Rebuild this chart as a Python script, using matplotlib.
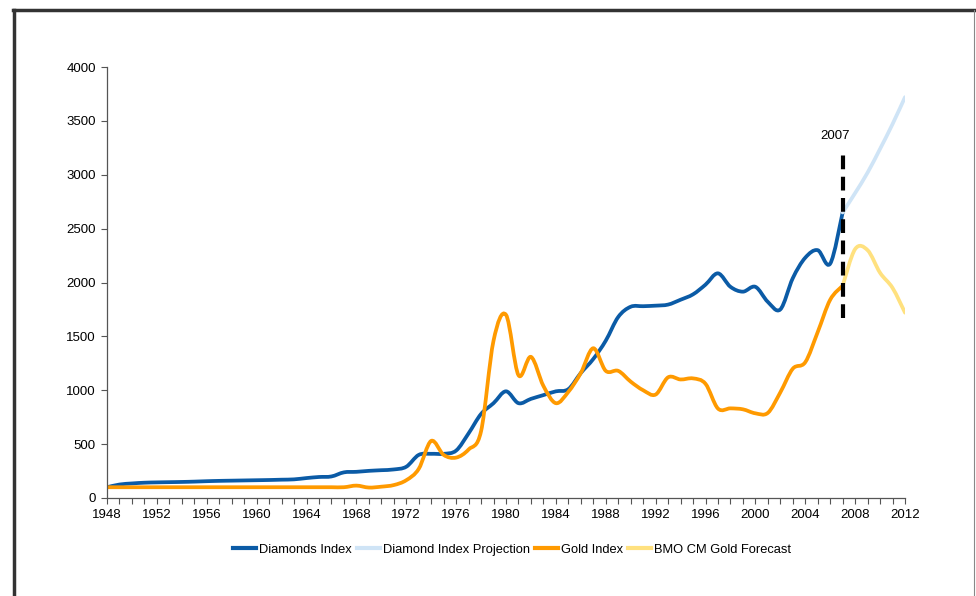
import matplotlib
matplotlib.use("Agg")
import matplotlib.pyplot as plt
from matplotlib.path import Path
from matplotlib.patches import PathPatch
from matplotlib.lines import Line2D
import numpy as np

plt.rcParams['font.family'] = ['Liberation Sans', 'DejaVu Sans']

years = list(range(1948, 2008))
diamonds = [100, 125, 135, 142, 145, 147, 149, 152, 156, 159, 161, 163, 165, 167, 170, 173,
            185, 195, 200, 238, 243, 252, 258, 265, 290, 400, 410, 410, 440, 600,
            780, 880, 990, 880, 920, 955, 990, 1010, 1160, 1290, 1460, 1680, 1775, 1780,
            1785, 1795, 1840, 1890, 1980, 2085, 1960, 1915, 1960, 1820, 1750, 2040,
            2230, 2300, 2175, 2650]
gold = [100, 100, 100, 100, 100, 100, 100, 100, 100, 100, 100, 100, 100, 100, 100, 100,
        100, 100, 100, 100, 115, 97, 105, 120, 165, 270, 530, 400, 375, 450,
        620, 1460, 1700, 1140, 1310, 1040, 880, 985, 1160, 1390, 1180, 1180, 1080, 1000,
        960, 1120, 1100, 1110, 1060, 830, 832, 823, 786, 790, 980, 1200,
        1260, 1540, 1840, 1970]
proj_years = [2007, 2008, 2009, 2010, 2011, 2012]
diamond_proj = [2650, 2830, 3020, 3240, 3470, 3720]
gold_forecast = [1970, 2310, 2300, 2090, 1950, 1720]

xtick_years = list(range(1948, 2013, 4))
yticks = [0, 500, 1000, 1500, 2000, 2500, 3000, 3500, 4000]
marker_year = 2007
marker_label = "2007"
marker_range = (1670, 3190)

series_names = ["Diamonds Index", "Diamond Index Projection", "Gold Index", "BMO CM Gold Forecast"]
colors = ["#0b5ba6", "#cfe4f6", "#ff9a00", "#ffe17f"]


def smooth_path(xs, ys):
    xs = np.asarray(xs, float)
    ys = np.asarray(ys, float)
    n = len(xs)
    verts = [(xs[0], ys[0])]
    codes = [Path.MOVETO]
    for i in range(n - 1):
        p0 = (xs[i - 1], ys[i - 1]) if i > 0 else (xs[i], ys[i])
        p1 = (xs[i], ys[i])
        p2 = (xs[i + 1], ys[i + 1])
        p3 = (xs[i + 2], ys[i + 2]) if i + 2 < n else p2
        c1 = (p1[0] + (p2[0] - p0[0]) / 6.0, p1[1] + (p2[1] - p0[1]) / 6.0)
        c2 = (p2[0] - (p3[0] - p1[0]) / 6.0, p2[1] - (p3[1] - p1[1]) / 6.0)
        verts += [c1, c2, p2]
        codes += [Path.CURVE4] * 3
    return Path(verts, codes)


fig = plt.figure(figsize=(9.76, 5.96), dpi=100)
fig.patch.set_facecolor("white")
ax = fig.add_axes([107 / 976, 1 - 498 / 596, (905 - 107) / 976, (498 - 67) / 596])

lw = 2.7
for xs, ys, c in [(years, diamonds, colors[0]), (proj_years, diamond_proj, colors[1]),
                  (years, gold, colors[2]), (proj_years, gold_forecast, colors[3])]:
    ax.add_patch(PathPatch(smooth_path(xs, ys), facecolor="none", edgecolor=c, lw=lw,
                           capstyle="round", joinstyle="round"))

ax.plot([marker_year, marker_year], marker_range, color="black", lw=3,
        dashes=(3.3, 1.8), zorder=5)
ax.text(marker_year - 0.6, 3300, marker_label, ha="center", va="bottom", fontsize=9.5)

ax.set_xlim(1948, 2012)
ax.set_ylim(0, 4000)
ax.set_xticks(xtick_years)
ax.set_xticklabels([str(y) for y in xtick_years], fontsize=9.5)
ax.set_xticks(list(range(1948, 2013)), minor=True)
ax.set_yticks(yticks)
ax.set_yticklabels([str(v) for v in yticks], fontsize=9.5)
for s in ["top", "right"]:
    ax.spines[s].set_visible(False)
for s in ["left", "bottom"]:
    ax.spines[s].set_color("#555555")
    ax.spines[s].set_linewidth(0.9)
ax.tick_params(axis="both", which="both", direction="out", length=4, width=0.8,
               color="#555555", labelcolor="black", pad=4)

handles = [Line2D([0], [0], color=c, lw=3) for c in colors]
fig.legend(handles, series_names, loc="center", bbox_to_anchor=(512 / 976, 1 - 550 / 596),
           ncol=4, frameon=False, fontsize=9.3, handlelength=1.8, handletextpad=0.2,
           columnspacing=0.4)

# outer frame
fig.add_artist(Line2D([14 / 976, 14 / 976], [0, 1 - 10 / 596], transform=fig.transFigure,
                      color="#333333", lw=2.5))
fig.add_artist(Line2D([13 / 976, 975 / 976], [1 - 10 / 596, 1 - 10 / 596], transform=fig.transFigure,
                      color="#333333", lw=2.5))
fig.add_artist(Line2D([974 / 976, 974 / 976], [0, 1 - 10 / 596], transform=fig.transFigure,
                      color="#888888", lw=0.8))

fig.savefig("out.png", dpi=100)
